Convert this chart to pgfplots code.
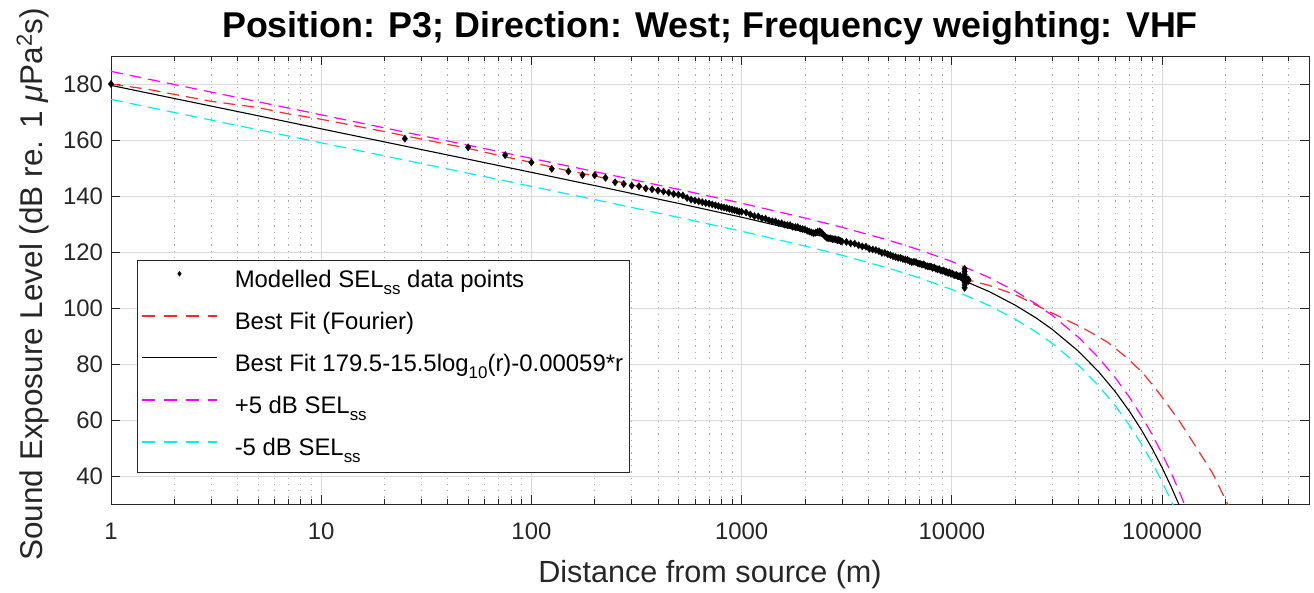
\documentclass[border=0pt]{standalone}
\usepackage{pgfplots}
\pgfplotsset{compat=1.18}
\usepackage{fontspec}
\setmainfont{Liberation Sans}
\definecolor{axgray}{RGB}{38,38,38}
\definecolor{fitRed}{RGB}{255,40,40}
\definecolor{fitMag}{RGB}{255,0,255}
\definecolor{fitCyan}{RGB}{0,240,240}
\newcommand{\sub}[1]{\raisebox{-7bp}{\fontsize{17}{17}\selectfont #1}}
\newcommand{\sups}[1]{\raisebox{11bp}{\fontsize{22}{22}\selectfont #1}}
\begin{document}
\begin{tikzpicture}
\begin{axis}[
  name=ax,
  scale only axis, width=1198bp, height=448bp,
  xmode=log, log basis x=10,
  xmin=1, xmax=5e5, ymin=30, ymax=190,
  xtick={1,10,100,1000,10000,100000},
  xticklabels={1,10,100,1000,10000,100000},
  minor xtick={2,3,4,5,6,7,8,9,20,30,40,50,60,70,80,90,200,300,400,500,600,700,800,900,2000,3000,4000,5000,6000,7000,8000,9000,20000,30000,40000,50000,60000,70000,80000,90000,200000,300000,400000},
  ytick={40,60,80,100,120,140,160,180},
  minor y tick num=0,
  tick pos=both,
  tick align=inside,
  major tick length=9bp, minor tick length=5bp,
  xmajorgrids, ymajorgrids, xminorgrids,
  major grid style={black!15, line width=0.8bp},
  minor grid style={black!35, line width=0.8bp, dash pattern=on 1.3bp off 5bp},
  axis line style={axgray, line width=0.8bp},
  every tick/.style={axgray, line width=0.8bp},
  /pgf/number format/assume math mode=true,
  tick label style={font=\fontsize{24}{28}\selectfont, text=axgray},
  xticklabel style={anchor=base, yshift=-35.7bp},
  yticklabel style={xshift=-4.5bp},
  title={Position: P3; Direction: West; Frequency weighting: VHF},
  title style={font=\bfseries\fontsize{36}{40}\selectfont, at={(axis description cs:0.5,1.029)}, anchor=base, text=black},
  xlabel={Distance from source (m)},
  xlabel style={font=\fontsize{30.7}{34}\selectfont, at={(axis description cs:0.5,-0.1741)}, anchor=base, text=axgray},
  ylabel={Sound Exposure Level (dB re. 1 \textit{μ}Pa\sups{2}s)},
  ylabel style={font=\fontsize{31.6}{35}\selectfont, at={(axis description cs:-0.0568,0.49)}, anchor=base, text=axgray},
  legend style={at={(axis description cs:0.0217,0.0714)}, anchor=south west, draw=axgray, fill=white,
     font=\fontsize{24}{28}\selectfont, inner xsep=4bp, inner ysep=2bp, row sep=2bp, column sep=15bp,
     nodes={text height=18bp, text depth=6bp, inner ysep=8bp}},
  legend cell align=left,
]
\addplot[only marks, mark=diamond*, mark size=3.6bp, draw=black, fill=black, mark options={line width=0.4bp, draw=black, fill=black},
  legend image code/.code={\path plot[mark=diamond*, mark size=2.4bp, mark options={draw=black, fill=black, line width=0.4bp}] coordinates {(37.5bp,8bp)};}] coordinates {
(1,180.0) (25,160.5) (50,157.4) (75,154.6) (100,152.0) (125,149.7) (150,148.8) (175,147.5) (200,147.4) (225,146.5)
(250,144.9) (275,144.3) (300,143.7) (325,143.5) (350,142.7) (375,142.4) (400,142.0) (425,141.6) (450,141.2) (475,140.7)
(500,140.5) (525,140.2) (550,139.3) (575,138.7) (600,138.4) (625,138.1) (650,137.8) (675,137.5) (700,137.3) (725,137.0)
(750,136.7) (775,136.4) (800,136.1) (825,135.9) (850,135.7) (875,135.4) (900,135.2) (925,134.9) (950,134.7) (975,134.4)
(1000,134.4) (1050,134.1) (1100,133.4) (1150,132.8) (1200,132.7) (1250,132.0) (1300,131.9) (1350,131.3) (1400,131.0) (1450,130.9)
(1500,130.3) (1550,130.3) (1600,129.8) (1650,129.6) (1700,129.6) (1750,129.0) (1800,128.9) (1850,128.9) (1900,128.4) (1950,128.2)
(2000,128.0) (2050,127.6) (2100,127.3) (2150,127.0) (2200,126.7) (2250,126.9) (2300,127.2) (2350,127.4) (2400,126.9) (2450,126.2)
(2500,125.5) (2550,125.0) (2600,124.9) (2650,124.9) (2700,124.6) (2750,124.6) (2800,124.5) (2850,124.2) (2900,124.3) (2950,123.9)
(3000,123.8) (3150,123.6) (3300,123.1) (3450,123.0) (3600,122.4) (3750,122.0) (3900,121.9) (4050,121.1) (4200,120.9) (4350,120.7)
(4500,120.3) (4650,119.7) (4800,119.7) (4950,119.2) (5100,118.9) (5250,118.5) (5400,118.2) (5550,117.9) (5700,117.9) (5850,117.5)
(6000,117.3) (6150,117.2) (6300,116.7) (6450,116.4) (6600,116.5) (6750,116.4) (6900,115.9) (7050,115.8) (7200,115.5) (7350,115.6)
(7500,115.1) (7650,114.9) (7800,114.8) (7950,114.8) (8100,114.3) (8250,114.5) (8400,114.0) (8550,113.8) (8700,113.9) (8850,113.4)
(9000,113.3) (9150,113.4) (9300,112.9) (9450,112.9) (9600,112.5) (9750,112.7) (9900,112.2) (10050,112.3) (10200,111.9) (10350,111.7)
(10500,111.8) (10650,111.4) (10800,111.3) (10950,111.5) (11100,110.8) (11250,110.9) (11400,110.6) (11550,110.3) (11700,110.7) (11850,110.0)
(11500,107.2) (11500,108.2) (11500,109.2) (11500,112.0) (11500,113.0) (11500,114.0) (11950,109.6) (12000,110.2)
};
\addlegendentry{Modelled SEL\sub{ss} data points}
\addplot[draw=fitRed, line width=1.2bp, dash pattern=on 12bp off 7bp,
  legend image code/.code={\draw[color=fitRed, draw=fitRed, line width=1.6bp, dash pattern=on 13bp off 9bp] (0bp,8bp) -- (75bp,8bp);}] coordinates {
(1,180.0) (1.5,178.1) (2,176.3) (3,173.8) (5,171.6) (7,169.3) (10,167.4) (20,163.0) (30,160.3) (50,157.0) (70,154.5)
(100,152.0) (150,149.0) (200,147.2) (300,144.0) (500,140.4) (700,137.3) (1000,134.4) (1500,130.4) (2000,128.1) (3000,123.9)
(5000,119.2) (7000,116.0) (10000,112.4) (12000,110.0) (15000,108.1) (20000,104.8) (28000,99.3) (42000,92.9) (55000,87.8)
(67400,82.5) (81000,76.8) (96800,69.6) (120000,60.0) (145000,50.4) (174000,41.0) (205000,30.0) (220000,25.0)
};
\addlegendentry{Best Fit (Fourier)}
\addplot[draw=black, line width=1.1bp,
  legend image code/.code={\draw[color=black, draw=black, line width=1.1bp] (0bp,8bp) -- (75bp,8bp);}] coordinates {
(1,179.5) (2,174.83) (5,168.67) (10,163.99) (20,159.32) (50,153.14) (100,148.44) (200,143.72) (500,137.37) (1000,132.41)
(2000,127.15) (3000,123.83) (5000,119.22) (7000,115.77) (10000,111.6) (15000,105.92) (20000,101.03) (25000,96.58) (30000,92.40)
(40000,84.57) (50000,77.17) (60000,70.04) (70000,63.10) (80000,56.30) (90000,49.61) (100000,43.0) (110000,36.46) (120000,29.97) (130000,23.5)
};
\addlegendentry{Best Fit 179.5-15.5log\sub{10}(r)-0.00059*r}
\addplot[draw=fitMag, line width=1.2bp, dash pattern=on 12bp off 7bp,
  legend image code/.code={\draw[color=fitMag, draw=fitMag, line width=1.6bp, dash pattern=on 13bp off 9bp] (0bp,8bp) -- (75bp,8bp);}] coordinates {
(1,184.5) (2,179.83) (5,173.67) (10,168.99) (20,164.32) (50,158.14) (100,153.44) (200,148.72) (500,142.37) (1000,137.41)
(2000,132.15) (3000,128.83) (5000,124.22) (7000,120.77) (10000,116.6) (15000,110.92) (20000,106.03) (25000,101.58) (30000,97.40)
(40000,89.57) (50000,82.17) (60000,75.04) (70000,68.10) (80000,61.30) (90000,54.61) (100000,48.0) (110000,41.46) (120000,34.97) (130000,28.5) (140000,22.1)
};
\addlegendentry{+5 dB SEL\sub{ss}}
\addplot[draw=fitCyan, line width=1.2bp, dash pattern=on 12bp off 7bp,
  legend image code/.code={\draw[color=fitCyan, draw=fitCyan, line width=1.6bp, dash pattern=on 13bp off 9bp] (0bp,8bp) -- (75bp,8bp);}] coordinates {
(1,174.5) (2,169.83) (5,163.67) (10,158.99) (20,154.32) (50,148.14) (100,143.44) (200,138.72) (500,132.37) (1000,127.41)
(2000,122.15) (3000,118.83) (5000,114.22) (7000,110.77) (10000,106.6) (15000,100.92) (20000,96.03) (25000,91.58) (30000,87.40)
(40000,79.57) (50000,72.17) (60000,65.04) (70000,58.10) (80000,51.30) (90000,44.61) (100000,38.0) (110000,31.46) (120000,24.97)
};
\addlegendentry{-5 dB SEL\sub{ss}}
\end{axis}
\pgfresetboundingbox
\path ([shift={(-111bp,-88bp)}]ax.south west) rectangle ([shift={(5bp,56bp)}]ax.north east);
\end{tikzpicture}
\end{document}
